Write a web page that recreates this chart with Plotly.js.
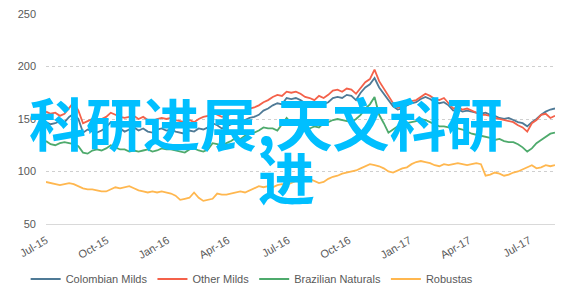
<!DOCTYPE html>
<html>
<head>
<meta charset="utf-8">
<script src="https://cdn.plot.ly/plotly-3.0.1.min.js"></script>
<style>
html,body{margin:0;padding:0;background:#fff;}
#chart{width:575px;height:293px;}
</style>
</head>
<body>
<div id="chart"></div>
<script>
// Weekly observations starting 1 Jul 2015 (US cents/lb)
const startDate = '2015-07-01';
const colombianMilds = [
  147,145,146,148,147, 152,155,150, 137,140,138,137,139, 142,147,144,141,
  138,140,142,139,141, 138,137,140,141,139, 140,138,137,136,139, 138,141,140,142,146,
  144,141,143,145,147, 146,149,151,152,154, 158,160,163,165,164, 170,169,170,168,165,
  163,162,166,164,166, 170,171,170,173,172, 168,175,180,183,189, 180,174,168,162,159,
  160,163,165,166,169, 171,169,166,165,166, 163,158,159,157,158, 157,156,155,156,154,
  153,151,150,151,149, 147,146,143,147,150, 154,157,159,160
];
const otherMilds = [
  157,155,156,153,155, 161,166,158, 146,148,150,149,150, 152,156,154,152,
  151,152,153,150,152, 149,148,150,151,150, 151,149,148,147,149, 147,150,152,153,156,
  154,152,153,155,157, 156,158,160,161,163, 166,168,171,173,172, 176,175,176,174,171,
  170,168,172,170,173, 177,178,176,179,178, 174,180,185,188,197, 186,179,172,165,161,
  162,164,167,168,171, 174,172,169,168,170, 165,160,161,159,160, 158,156,154,154,153,
  151,150,149,148,147, 144,142,138,146,149, 154,155,151,153
];
const brazilianNaturals = [
  129,126,125,127,128, 127,126,124, 118,117,120,121,120, 122,125,123,121,
  121,119,120,119,120, 121,119,120,122,121, 121,120,119,118,121, 122,120,119,121,127,
  126,124,127,129,132, 131,134,136,137,139, 142,141,141,139,145, 151,146,145,143,140,
  141,143,142,146,147, 149,150,149,148,147, 150,154,160,164,171, 154,146,137,140,143,
  144,146,147,148,150, 149,147,145,143,143, 142,141,141,140,138, 136,135,134,133,132,
  130,131,129,128,128, 126,123,119,122,127, 130,133,136,137
];
const robustas = [
  90,89,88,87,88, 89,88,86, 84,83,83,82,81, 81,83,85,84,
  85,86,84,82,81, 80,81,80,81,80, 79,77,73,74,75, 80,75,72,73,74,
  79,78,78,79,80, 81,80,82,84,86, 85,86,85,87,88, 87,89,91,90,92,
  93,91,89,90,93, 95,96,98,99,100, 101,103,105,107,106, 105,103,100,99,101,
  103,104,107,109,110, 109,108,106,105,107, 106,107,108,107,106, 107,108,107,96,97,
  99,98,96,97,99, 100,102,104,106,103, 104,106,105,106
];
const seriesNames = ['Colombian Milds','Other Milds','Brazilian Naturals','Robustas'];
const seriesColors = ['#4f7a96','#f4614a','#4eaa6c','#ffb74f'];
const overlayLine1 = '科研进展,天文科研';
const overlayLine2 = '进';

function weeklyDates(start, n){
  const out = [];
  const t0 = Date.parse(start + 'T00:00:00Z');
  for (let i = 0; i < n; i++){
    out.push(new Date(t0 + i*7*86400000).toISOString().slice(0,10));
  }
  return out;
}
const dates = weeklyDates(startDate, colombianMilds.length);
const allValues = [colombianMilds, otherMilds, brazilianNaturals, robustas];

const traces = allValues.map((v,k)=>({
  x: dates, y: v, type:'scatter', mode:'lines', name: seriesNames[k],
  line:{color: seriesColors[k], width:1.8}
}));

const fontFam = '"Liberation Sans", Arial, sans-serif';
const layout = {
  width:575, height:293,
  margin:{l:46, r:20, t:14, b:69, autoexpand:false},
  paper_bgcolor:'#fff', plot_bgcolor:'#fff',
  showlegend:true,
  legend:{orientation:'h', x:0.405, xanchor:'center', y:-0.262, yanchor:'middle',
          font:{family:fontFam, size:11, color:'#595959'}, itemwidth:30, tracegroupgap:0},
  xaxis:{
    type:'date', range:[dates[0], dates[dates.length-1]], automargin:false,
    tick0:'2015-07-01', dtick:'M3', tickformat:'%b-%y', tickangle:-30,
    showgrid:false, showline:true, linecolor:'#d9d9d9', linewidth:1,
    ticks:'', ticklabelstandoff:5, tickfont:{family:fontFam, size:11, color:'#595959'}, zeroline:false
  },
  yaxis:{
    range:[50,250], tick0:50, dtick:50, showgrid:true, gridcolor:'#cfcfcf', griddash:'dot',
    gridwidth:1, zeroline:false, showline:false, ticks:'', automargin:false, ticklabelstandoff:9,
    tickfont:{family:fontFam, size:11, color:'#595959'}
  },
  annotations:[
    {text: overlayLine1, xref:'paper', yref:'paper', x:-0.038, y:0.49, xanchor:'left', yanchor:'middle',
     showarrow:false, font:{family:'"Noto Sans CJK SC", sans-serif', size:57, color:'#00bfff', weight:700}},
    {text: overlayLine2, xref:'paper', yref:'paper', x:0.472, y:0.232, xanchor:'center', yanchor:'middle',
     showarrow:false, font:{family:'"Noto Sans CJK SC", sans-serif', size:57, color:'#00bfff', weight:700}}
  ]
};
Plotly.newPlot('chart', traces, layout, {staticPlot:true, displayModeBar:false});
</script>
</body>
</html>
